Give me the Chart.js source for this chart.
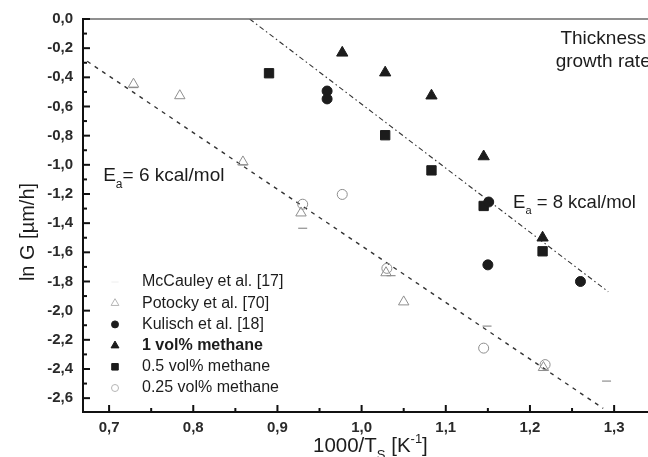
<!DOCTYPE html>
<html>
<head>
<meta charset="utf-8">
<script src="https://cdn.jsdelivr.net/npm/chart.js@4.4.1/dist/chart.umd.min.js"></script>
<style>
  html, body { margin: 0; padding: 0; background: #fff; width: 648px; height: 457px; overflow: hidden; }
  #wrap { position: relative; width: 700px; height: 457px; }
</style>
</head>
<body>
<div id="wrap"><canvas id="arrhenius" width="700" height="457"></canvas></div>
<script>
// axis ticks
const xTicks = [0.7, 0.8, 0.9, 1.0, 1.1, 1.2, 1.3];
const xMinor = [0.75, 0.85, 0.95, 1.05, 1.15, 1.25, 1.35];
const yTicks = [0, -0.2, -0.4, -0.6, -0.8, -1.0, -1.2, -1.4, -1.6, -1.8, -2.0, -2.2, -2.4, -2.6];
const yMinor = [-0.1, -0.3, -0.5, -0.7, -0.9, -1.1, -1.3, -1.5, -1.7, -1.9, -2.1, -2.3, -2.5];

// literature data
const mccauleyX = [0.729, 0.859, 0.930, 1.035, 1.149, 1.291];
const mccauleyY = [-0.47, -1.00, -1.435, -1.76, -2.106, -2.483];
const potockyX = [0.729, 0.784, 0.859, 0.928, 1.029, 1.050, 1.216];
const potockyY = [-0.447, -0.526, -0.98, -1.33, -1.74, -1.94, -2.39];
const kulischX = [0.959, 0.959, 1.151, 1.150, 1.260];
const kulischY = [-0.494, -0.548, -1.255, -1.686, -1.80];

// own data, growth rate per methane concentration
const vol1X = [0.977, 1.028, 1.083, 1.145, 1.215];
const vol1Y = [-0.232, -0.368, -0.526, -0.943, -1.50];
const vol05X = [0.890, 1.028, 1.083, 1.145, 1.215];
const vol05Y = [-0.372, -0.797, -1.038, -1.282, -1.593];
const vol025X = [0.930, 0.977, 1.030, 1.145, 1.218];
const vol025Y = [-1.27, -1.203, -1.71, -2.257, -2.37];

// Arrhenius fits
const fit6X = [0.674, 1.287];
const fit6Y = [-0.29, -2.67];
const fit8X = [0.867, 1.293];
const fit8Y = [0.0, -1.87];

const FONT = "'Liberation Sans', Arial, sans-serif";
const INK = '#1c1c1c';
const FAINT = '#8e8e8e';

const pts = (xs, ys) => xs.map((x, i) => ({ x, y: ys[i] }));
const comma = (v) => v.toFixed(1).replace('.', ',');

const markers = [
  { label: 'McCauley et al. [17]', data: pts(mccauleyX, mccauleyY), pointStyle: 'line', pointRadius: 4.5,
    borderColor: FAINT, backgroundColor: FAINT, pointBorderWidth: 1.2, legendColor: '#eeeeee', legendFill: false, legendScale: 0.8 },
  { label: 'Potocky et al. [70]', data: pts(potockyX, potockyY), pointStyle: 'triangle', pointRadius: 6,
    borderColor: FAINT, backgroundColor: 'rgba(0,0,0,0)', pointBorderWidth: 1, legendColor: '#b5b5b5', legendFill: false, legendScale: 0.75 },
  { label: 'Kulisch et al. [18]', data: pts(kulischX, kulischY), pointStyle: 'circle', pointRadius: 5,
    borderColor: INK, backgroundColor: INK, pointBorderWidth: 1, legendColor: INK, legendFill: true, legendScale: 0.7 },
  { label: '1 vol% methane', data: pts(vol1X, vol1Y), pointStyle: 'triangle', pointRadius: 6.5,
    borderColor: INK, backgroundColor: INK, pointBorderWidth: 1, legendColor: INK, legendFill: true, legendScale: 0.7, bold: true },
  { label: '0.5 vol% methane', data: pts(vol05X, vol05Y), pointStyle: 'rect', pointRadius: 6.6,
    borderColor: INK, backgroundColor: INK, pointBorderWidth: 1, legendColor: INK, legendFill: true, legendScale: 0.7 },
  { label: '0.25 vol% methane', data: pts(vol025X, vol025Y), pointStyle: 'circle', pointRadius: 5,
    borderColor: FAINT, backgroundColor: 'rgba(0,0,0,0)', pointBorderWidth: 1, legendColor: '#b5b5b5', legendFill: false, legendScale: 0.7 }
].map(d => Object.assign(d, { type: 'scatter', showLine: false, order: 1 }));

const fits = [
  { label: 'Ea = 6 kcal/mol', data: pts(fit6X, fit6Y), borderDash: [4, 5], borderWidth: 1.4 },
  { label: 'Ea = 8 kcal/mol', data: pts(fit8X, fit8Y), borderDash: [5, 3, 1.5, 3], borderWidth: 1.1 }
].map(d => Object.assign(d, { type: 'scatter', showLine: true, pointRadius: 0, borderColor: '#333',
  backgroundColor: '#333', order: 2 }));

function drawMark(ctx, style, x, y, r, fill) {
  ctx.beginPath();
  if (style === 'circle') {
    ctx.arc(x, y, r, 0, Math.PI * 2);
  } else if (style === 'triangle') {
    ctx.moveTo(x, y - r);
    ctx.lineTo(x + r * 0.866, y + r / 2);
    ctx.lineTo(x - r * 0.866, y + r / 2);
    ctx.closePath();
  } else if (style === 'rect') {
    const s = r * Math.SQRT1_2;
    ctx.rect(x - s, y - s, 2 * s, 2 * s);
  } else if (style === 'line') {
    ctx.moveTo(x - r, y);
    ctx.lineTo(x + r, y);
  }
  if (fill && style !== 'line') ctx.fill();
  ctx.stroke();
}

// text with a lowered (sub) or raised (sup) part: [[text, kind], ...]
function richText(ctx, parts, x, y, size) {
  let cx = x;
  parts.forEach(([t, kind]) => {
    const small = kind === 'sub' || kind === 'sup';
    ctx.font = `${small ? Math.round(size * 0.62) : size}px ${FONT}`;
    const dy = kind === 'sub' ? size * 0.35 : kind === 'sup' ? -size * 0.42 : 0;
    ctx.fillText(t, cx, y + dy);
    cx += ctx.measureText(t).width;
  });
}

const decor = {
  id: 'decor',
  afterDatasetsDraw(chart) {
    const { ctx, chartArea: a, scales: { x, y } } = chart;
    const seg = (x1, y1, x2, y2) => { ctx.beginPath(); ctx.moveTo(x1, y1); ctx.lineTo(x2, y2); ctx.stroke(); };
    ctx.save();

    // frame: thin top edge, heavy left and bottom axes
    ctx.strokeStyle = '#6a6a6a'; ctx.lineWidth = 1.3;
    seg(a.left, a.top, a.right, a.top);
    ctx.strokeStyle = '#111'; ctx.lineWidth = 2;
    seg(a.left, a.top - 1, a.left, a.bottom + 1);
    seg(a.left - 1, a.bottom, a.right, a.bottom);

    // inward ticks
    yTicks.forEach(v => { const p = y.getPixelForValue(v); seg(a.left, p, a.left + 7, p); });
    yMinor.forEach(v => { const p = y.getPixelForValue(v); seg(a.left, p, a.left + 4, p); });
    xTicks.forEach(v => { const p = x.getPixelForValue(v); seg(p, a.bottom, p, a.bottom - 7); });
    xMinor.forEach(v => { const p = x.getPixelForValue(v); seg(p, a.bottom, p, a.bottom - 4); });

    ctx.fillStyle = INK;
    ctx.textBaseline = 'alphabetic';
    ctx.textAlign = 'left';

    // activation energies next to the fit lines
    richText(ctx, [['E', ''], ['a', 'sub'], ['= 6 kcal/mol', '']], x.getPixelForValue(0.693), y.getPixelForValue(-1.11), 19);
    richText(ctx, [['E', ''], ['a', 'sub'], [' = 8 kcal/mol', '']], x.getPixelForValue(1.180), y.getPixelForValue(-1.293), 18.5);

    // panel caption
    ctx.textAlign = 'center';
    ctx.font = `19px ${FONT}`;
    ctx.fillText('Thickness', x.getPixelForValue(1.287), y.getPixelForValue(-0.171));
    ctx.fillText('growth rate', x.getPixelForValue(1.287), y.getPixelForValue(-0.332));

    // legend
    ctx.textAlign = 'left';
    ctx.textBaseline = 'middle';
    markers.forEach((d, i) => {
      const ry = a.top + 263 + i * 21.2;
      ctx.strokeStyle = d.legendColor; ctx.fillStyle = d.legendColor; ctx.lineWidth = 1;
      drawMark(ctx, d.pointStyle, a.left + 32, ry, d.pointRadius * d.legendScale, d.legendFill);
      ctx.fillStyle = INK;
      ctx.font = `${d.bold ? 'bold ' : ''}16px ${FONT}`;
      ctx.fillText(d.label, a.left + 59, ry);
    });

    // axis titles
    ctx.textBaseline = 'alphabetic';
    ctx.save();
    ctx.translate(34, a.top + (a.bottom - a.top) * 0.542);
    ctx.rotate(-Math.PI / 2);
    ctx.textAlign = 'center';
    ctx.font = `20px ${FONT}`;
    ctx.fillText('ln G [\u00b5m/h]', 0, 0);
    ctx.restore();

    ctx.textAlign = 'left';
    richText(ctx, [['1000/T', ''], ['S', 'sub'], [' [K', ''], ['-1', 'sup'], [']', '']], 313, 452, 20.5);

    ctx.restore();
  }
};

const tickFont = { family: FONT, size: 15, weight: 'bold' };

new Chart(document.getElementById('arrhenius'), {
  type: 'scatter',
  data: { datasets: [...markers, ...fits] },
  options: {
    responsive: false,
    animation: false,
    devicePixelRatio: 1,
    layout: { padding: { top: 14, right: 32, left: 0, bottom: 0 } },
    plugins: { legend: { display: false }, tooltip: { enabled: false } },
    scales: {
      x: {
        type: 'linear', min: 0.669, max: 1.364,
        afterBuildTicks: (s) => { s.ticks = xTicks.map(v => ({ value: v })); },
        afterFit: (s) => { s.height = 45; },
        grid: { display: false, drawTicks: false },
        border: { display: false },
        ticks: { autoSkip: false, maxRotation: 0, padding: 7, color: '#2a2a2a', font: tickFont, callback: comma }
      },
      y: {
        type: 'linear', min: -2.695, max: 0,
        afterBuildTicks: (s) => { s.ticks = yTicks.map(v => ({ value: v })); },
        afterFit: (s) => { s.width = 83; },
        grid: { display: false, drawTicks: false },
        border: { display: false },
        ticks: { autoSkip: false, padding: 10, color: '#2a2a2a', font: tickFont, callback: comma }
      }
    }
  },
  plugins: [decor]
});
</script>
</body>
</html>
